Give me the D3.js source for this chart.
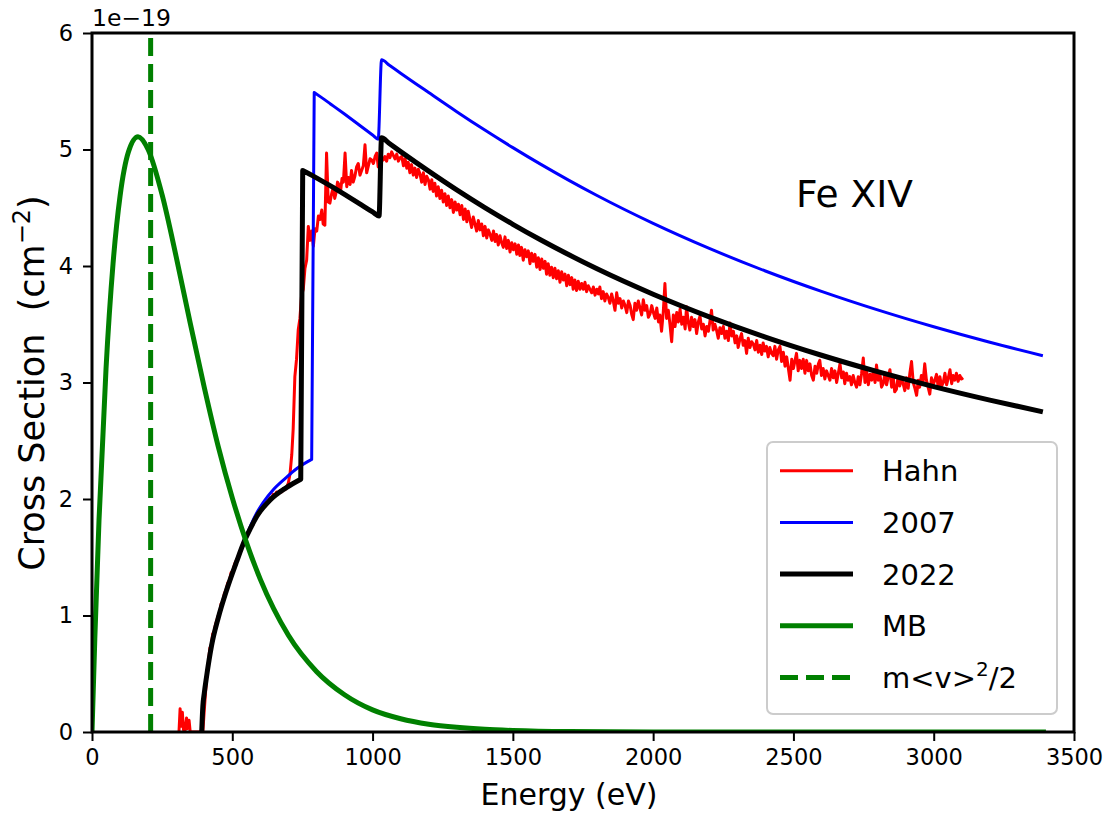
<!DOCTYPE html>
<html>
<head>
<meta charset="utf-8">
<script src="https://cdn.jsdelivr.net/npm/d3@7"></script>
<style>
  body { margin: 0; background: #fff; }
  svg { font-family: "DejaVu Sans", sans-serif; }
</style>
</head>
<body>
<svg id="chart" width="1109" height="818"></svg>
<script>
// measured data, cross sections in units of 1e-19 cm^2, energy in eV
var hahn = [
  [310,0],[314,0.2],[318,0.05],[322,0.17],[326,0.02],[331,0],[337,0.12],[341,0.03],[346,0.1],[350,0],
  [380,0],[395,0],[400,0.18],[405,0.35],[410,0.5],[415,0.6],[420,0.72],[425,0.74],[430,0.84],[435,0.86],
  [440,0.92],[445,0.96],[450,1.0],[455,1.02],[460,1.1],[466,1.12],[472,1.19],[478,1.22],[484,1.28],[490,1.3],
  [496,1.37],[502,1.38],[508,1.44],[514,1.47],[520,1.5],[526,1.54],[532,1.57],[538,1.62],[544,1.64],[550,1.7],
  [556,1.7],[562,1.74],[568,1.77],[574,1.78],[580,1.83],[586,1.85],[592,1.88],[598,1.88],[604,1.93],[610,1.94],
  [616,1.95],[622,1.97],[628,1.98],[634,2.01],[640,2.0],[646,2.04],[652,2.03],[658,2.06],[664,2.05],[670,2.07],
  [676,2.06],[682,2.09],[688,2.08],[694,2.1],[700,2.14],[706,2.22],[712,2.38],[717,2.6],[723,3.05],[729,3.2],
  [735,3.45],[741,3.55],[747,3.75],[753,3.8],[759,3.98],[765,4.05],[771,4.34],[777,4.22],[783,4.3],[789,4.17],
  [795,4.32],[801,4.3],[807,4.43],[813,4.4],[819,4.48],[824,4.36],[830,4.35],[836,4.97],[842,4.55],[848,4.54],
  [854,4.62],[860,4.68],[865,4.58],[870,4.63],[875,4.72],[880,4.7],[886,4.64],[891,4.75],[896,4.72],[902,4.97],
  [908,4.68],[914,4.76],[920,4.7],[925,4.82],[931,4.72],[937,4.77],[943,4.85],[949,4.88],[955,4.78],[961,4.82],
  [967,4.86],[973,5.04],[979,4.8],[985,4.86],[991,4.92],[997,4.91],[1003,4.88],[1009,4.94],[1015,4.97],[1020,4.85],
  [1026,4.9],[1032,4.93],[1038,4.91],[1044,4.94],[1050,4.9],[1056,4.96],[1062,4.93],[1068,4.98],[1074,4.95],[1080,4.92],
  [1086,4.96],[1092,4.9],[1098,4.93],[1104,4.94],[1110,4.86],[1116,4.92],[1122,4.84],[1127,4.89],[1133,4.8],[1139,4.87],
  [1145,4.78],[1151,4.84],[1157,4.76],[1163,4.83],[1169,4.79],[1175,4.72],[1181,4.8],[1187,4.7],[1193,4.77],[1199,4.74],
  [1205,4.66],[1211,4.74],[1216,4.64],[1222,4.71],[1228,4.6],[1234,4.68],[1240,4.58],[1246,4.65],[1252,4.55],[1258,4.62],
  [1264,4.52],[1270,4.6],[1276,4.5],[1282,4.57],[1288,4.46],[1294,4.55],[1300,4.48],[1306,4.53],[1312,4.44],[1318,4.52],
  [1324,4.4],[1330,4.49],[1336,4.38],[1341,4.47],[1347,4.4],[1353,4.33],[1359,4.42],[1365,4.36],[1371,4.3],[1377,4.39],
  [1383,4.31],[1389,4.36],[1395,4.26],[1401,4.34],[1407,4.24],[1413,4.31],[1419,4.27],[1425,4.22],[1431,4.3],[1437,4.21],
  [1442,4.27],[1448,4.18],[1454,4.26],[1460,4.2],[1466,4.16],[1472,4.25],[1478,4.15],[1484,4.22],[1490,4.12],[1496,4.2],
  [1502,4.14],[1508,4.19],[1514,4.1],[1520,4.18],[1525,4.09],[1531,4.16],[1537,4.05],[1543,4.14],[1549,4.08],[1555,4.13],
  [1561,4.02],[1567,4.11],[1573,4.04],[1579,4.1],[1585,3.99],[1591,4.07],[1597,3.97],[1603,4.06],[1609,3.98],[1615,4.04],
  [1620,3.93],[1626,4.02],[1632,3.92],[1638,3.99],[1644,3.9],[1650,3.98],[1656,3.89],[1662,3.96],[1668,3.86],[1674,3.95],
  [1680,3.88],[1686,3.93],[1692,3.83],[1698,3.92],[1704,3.84],[1710,3.9],[1715,3.8],[1721,3.88],[1727,3.79],[1733,3.87],
  [1739,3.8],[1745,3.85],[1751,3.8],[1757,3.86],[1763,3.78],[1769,3.83],[1775,3.8],[1781,3.77],[1787,3.82],[1793,3.75],
  [1799,3.8],[1805,3.76],[1810,3.82],[1816,3.72],[1822,3.78],[1828,3.7],[1834,3.76],[1840,3.73],[1846,3.68],[1852,3.76],
  [1858,3.7],[1864,3.62],[1870,3.77],[1876,3.68],[1882,3.72],[1888,3.64],[1894,3.7],[1900,3.66],[1906,3.6],[1912,3.7],
  [1918,3.66],[1924,3.58],[1929,3.54],[1935,3.68],[1941,3.62],[1947,3.7],[1953,3.64],[1959,3.58],[1965,3.71],[1971,3.62],
  [1977,3.66],[1983,3.56],[1989,3.59],[1995,3.66],[2001,3.6],[2007,3.55],[2013,3.64],[2019,3.52],[2024,3.58],[2030,3.44],
  [2036,3.6],[2042,3.85],[2048,3.55],[2054,3.62],[2060,3.5],[2066,3.35],[2072,3.58],[2078,3.48],[2084,3.6],[2090,3.52],
  [2096,3.63],[2102,3.5],[2108,3.56],[2114,3.46],[2119,3.65],[2125,3.52],[2131,3.45],[2137,3.56],[2143,3.48],[2149,3.54],
  [2155,3.42],[2161,3.52],[2167,3.57],[2173,3.46],[2179,3.5],[2185,3.4],[2191,3.48],[2197,3.44],[2202,3.52],[2208,3.62],
  [2214,3.45],[2220,3.5],[2226,3.45],[2232,3.38],[2238,3.47],[2244,3.42],[2250,3.48],[2256,3.38],[2262,3.44],[2268,3.36],
  [2274,3.51],[2280,3.4],[2286,3.44],[2292,3.34],[2298,3.4],[2303,3.3],[2309,3.37],[2315,3.42],[2321,3.32],[2327,3.36],
  [2333,3.25],[2339,3.38],[2345,3.3],[2351,3.35],[2357,3.33],[2363,3.28],[2369,3.36],[2375,3.26],[2381,3.32],[2387,3.24],
  [2392,3.34],[2398,3.27],[2404,3.31],[2410,3.22],[2416,3.3],[2422,3.25],[2428,3.23],[2434,3.31],[2440,3.2],[2446,3.28],
  [2452,3.31],[2458,3.18],[2464,3.26],[2470,3.14],[2476,3.22],[2482,3.12],[2488,3.02],[2494,3.2],[2500,3.12],[2505,3.18],
  [2511,3.25],[2517,3.1],[2523,3.19],[2529,3.12],[2535,3.2],[2541,3.08],[2547,3.19],[2553,3.1],[2559,3.16],[2565,3.06],
  [2571,3.02],[2577,3.14],[2583,3.08],[2589,3.16],[2594,3.19],[2600,3.06],[2606,3.12],[2612,3.03],[2618,3.1],[2624,3.06],
  [2630,3.02],[2636,3.12],[2642,3.04],[2648,3.1],[2654,3.0],[2660,3.08],[2666,3.16],[2672,3.04],[2678,3.09],[2683,2.99],
  [2689,3.08],[2695,3.02],[2701,3.05],[2707,2.98],[2713,3.06],[2719,3.0],[2725,2.96],[2731,3.05],[2737,2.98],[2743,3.08],
  [2749,3.21],[2755,3.0],[2761,3.1],[2767,2.98],[2773,3.07],[2779,3.02],[2785,3.1],[2791,3.0],[2796,3.15],[2802,3.02],
  [2808,3.08],[2814,2.96],[2820,2.99],[2826,3.08],[2832,2.98],[2838,3.05],[2844,3.11],[2850,2.96],[2856,3.04],[2861,2.92],
  [2867,2.94],[2873,3.05],[2879,2.97],[2885,3.03],[2891,2.99],[2897,2.93],[2903,3.04],[2909,2.95],[2915,3.08],[2921,3.18],
  [2927,3.0],[2933,2.95],[2939,2.89],[2945,3.02],[2950,2.96],[2956,3.06],[2962,3.0],[2968,3.16],[2974,3.02],[2980,2.96],
  [2986,2.9],[2992,3.04],[2998,2.98],[3004,3.02],[3010,3.07],[3016,2.96],[3022,3.05],[3028,2.97],[3034,3.0],[3040,3.08],
  [3046,2.98],[3052,3.04],[3058,3.11],[3064,2.99],[3069,3.06],[3075,3.02],[3081,3.08],[3087,3.01],[3093,3.06],[3099,3.03],
  [3105,3.04]
]

var calc2007 = [
  [391,0],[395,0.22],[400,0.33],[408,0.47],[426,0.74],[450,0.98],[480,1.22],[515,1.46],[545,1.65],[565,1.77],
  [587,1.88],[610,1.97],[646,2.08],[690,2.18],[729,2.26],[783,2.34],
  [792,5.49],[820,5.443],[850,5.391],[900,5.304],[950,5.215],[1000,5.125],[1020,5.089],
  [1032,5.77],[1060,5.723],[1100,5.655],[1200,5.489],[1300,5.325],[1400,5.167],[1500,5.016],[1600,4.872],[1700,4.735],
  [1800,4.605],[2000,4.366],[2200,4.151],[2400,3.957],[2600,3.782],[2800,3.623],[3000,3.478],[3200,3.345],[3389,3.23]
]

var calc2022 = [
  [391,0],[395,0.22],[400,0.33],[408,0.47],[426,0.74],[450,0.98],[480,1.22],[515,1.46],[545,1.65],[565,1.75],
  [587,1.85],[634,1.99],[694,2.1],[744,2.17],
  [751,4.82],[775,4.79],[800,4.757],[850,4.688],[900,4.615],[950,4.54],[1000,4.464],[1023,4.43],
  [1032,5.1],[1060,5.051],[1100,4.982],[1200,4.814],[1300,4.653],[1400,4.501],[1500,4.358],[1600,4.223],[1700,4.096],
  [1800,3.976],[2000,3.758],[2200,3.564],[2400,3.39],[2600,3.234],[2800,3.093],[3000,2.965],[3200,2.849],[3389,2.748]
]

// Maxwell-Boltzmann distribution, scaled to the same axis
var mbCurve = [
  [0,0],[10,0.8],[25,1.82],[50,3.12],[75,4.02],[100,4.6],[130,4.98],[164,5.11],[200,5.0],[250,4.61],
  [300,4.08],[350,3.51],[400,2.96],[450,2.45],[500,2.01],[550,1.63],[600,1.31],[700,0.83],[800,0.52],[900,0.32],
  [1000,0.19],[1100,0.114],[1200,0.067],[1300,0.04],[1400,0.023],[1500,0.013],[1700,0.004],[2000,0.001],[2500,0],[3400,0]
]

var meanEnergy = 209

var xTicks = [0, 500, 1000, 1500, 2000, 2500, 3000, 3500]
var yTicks = [0, 1, 2, 3, 4, 5, 6]

var plotLeft = 92, plotRight = 1074, plotTop = 33, plotBottom = 732

var svg = d3.select("#chart")

var x = d3.scaleLinear().domain([0, 3500]).range([plotLeft, plotRight])
var y = d3.scaleLinear().domain([0, 6]).range([plotBottom, plotTop])

svg.append("defs").append("clipPath")
    .attr("id", "plotclip")
  .append("rect")
    .attr("x", plotLeft)
    .attr("y", plotTop)
    .attr("width", plotRight - plotLeft)
    .attr("height", plotBottom - plotTop)

var line = d3.line()
    .x(function(d){return x(d[0])})
    .y(function(d){return y(d[1])})

var smoothLine = d3.line()
    .x(function(d){return x(d[0])})
    .y(function(d){return y(d[1])})
    .curve(d3.curveMonotoneX)

// smooth each branch, keep the threshold jumps as straight steps
function jumpPath(data) {
    var pieces = [], cur = [data[0]]
    for (var i = 1; i < data.length; i++) {
        var p = data[i-1], q = data[i]
        if (q[0] - p[0] < 15 && Math.abs(q[1] - p[1]) > 1) {
            pieces.push(cur)
            cur = [q]
        } else {
            cur.push(q)
        }
    }
    pieces.push(cur)
    return pieces.map(function(pc, i){
        var s = smoothLine(pc)
        return i ? "L" + s.slice(1) : s
    }).join("")
}

var plot = svg.append("g").attr("clip-path", "url(#plotclip)")

plot.append("path")
    .datum(hahn)
    .attr("d", line)
    .attr("fill", "none")
    .attr("stroke", "#ff0000")
    .attr("stroke-width", 3)
    .attr("stroke-linejoin", "round")

plot.append("path")
    .attr("d", jumpPath(calc2007))
    .attr("fill", "none")
    .attr("stroke", "#0000ff")
    .attr("stroke-width", 3)
    .attr("stroke-linejoin", "round")

plot.append("path")
    .attr("d", jumpPath(calc2022))
    .attr("fill", "none")
    .attr("stroke", "#000000")
    .attr("stroke-width", 5)
    .attr("stroke-linejoin", "round")

plot.append("path")
    .datum(mbCurve)
    .attr("d", smoothLine)
    .attr("fill", "none")
    .attr("stroke", "#008000")
    .attr("stroke-width", 5)
    .attr("stroke-linejoin", "round")

plot.append("line")
    .attr("x1", x(meanEnergy))
    .attr("x2", x(meanEnergy))
    .attr("y1", y(0))
    .attr("y2", y(6))
    .attr("stroke", "#008000")
    .attr("stroke-width", 5)
    .attr("stroke-dasharray", "18,8")

// axes
svg.append("g")
    .attr("transform", "translate(0," + plotBottom + ")")
    .call(d3.axisBottom(x).tickValues(xTicks).tickSize(9).tickPadding(8).tickFormat(d3.format("d")))
svg.append("g")
    .attr("transform", "translate(" + plotLeft + ",0)")
    .call(d3.axisLeft(y).tickValues(yTicks).tickSize(9).tickPadding(10).tickFormat(d3.format("d")))

svg.selectAll(".domain").remove()
svg.selectAll(".tick line").attr("stroke", "#000").attr("stroke-width", 2)
svg.selectAll(".tick text")
    .attr("fill", "#000")
    .attr("font-size", "22.5px")
    .attr("font-family", "DejaVu Sans")

// frame
svg.append("rect")
    .attr("x", plotLeft)
    .attr("y", plotTop)
    .attr("width", plotRight - plotLeft)
    .attr("height", plotBottom - plotTop)
    .attr("fill", "none")
    .attr("stroke", "#000")
    .attr("stroke-width", 3)

svg.append("text")
    .attr("x", plotLeft)
    .attr("y", 26)
    .attr("font-size", "23.5px")
    .text("1e\u221219")

svg.append("text")
    .attr("x", 569)
    .attr("y", 805)
    .attr("text-anchor", "middle")
    .attr("font-size", "30px")
    .text("Energy (eV)")

var ylab = svg.append("text")
    .attr("transform", "translate(44,383) rotate(-90)")
    .attr("text-anchor", "middle")
    .attr("font-size", "35px")
    .style("white-space", "pre")
ylab.append("tspan").text("Cross Section  (cm")
ylab.append("tspan").attr("dy", -14).attr("font-size", "24px").text("\u22122")
ylab.append("tspan").attr("dy", 14).text(")")

svg.append("text")
    .attr("x", 796)
    .attr("y", 207)
    .attr("font-size", "37.5px")
    .text("Fe XIV")

// legend
var legendItems = [
  {label: "Hahn", color: "#ff0000", width: 3, dash: null},
  {label: "2007", color: "#0000ff", width: 3, dash: null},
  {label: "2022", color: "#000000", width: 5, dash: null},
  {label: "MB", color: "#008000", width: 5, dash: null},
  {label: "m<v>", color: "#008000", width: 5, dash: "18,8"}
]

var legend = svg.append("g")
legend.append("rect")
    .attr("x", 767)
    .attr("y", 442)
    .attr("width", 290)
    .attr("height", 272)
    .attr("rx", 6)
    .attr("fill", "#fff")
    .attr("fill-opacity", 0.8)
    .attr("stroke", "#cccccc")
    .attr("stroke-width", 2)

var rows = legend.selectAll("g.row")
    .data(legendItems)
    .enter()
    .append("g")
    .attr("class", "row")
    .attr("transform", function(d,i){return "translate(0," + (470.7 + i * 51.7) + ")"})

rows.append("line")
    .attr("x1", 780)
    .attr("x2", 853)
    .attr("stroke", function(d){return d.color})
    .attr("stroke-width", function(d){return d.width})
    .attr("stroke-dasharray", function(d){return d.dash})

var labels = rows.append("text")
    .attr("x", 882)
    .attr("y", 10.5)
    .attr("font-size", "29px")
labels.append("tspan").text(function(d){return d.label})
labels.filter(function(d,i){return i == 4}).append("tspan")
    .attr("dy", -12).attr("font-size", "20px").text("2")
labels.filter(function(d,i){return i == 4}).append("tspan")
    .attr("dy", 12).text("/2")
</script>
</body>
</html>
